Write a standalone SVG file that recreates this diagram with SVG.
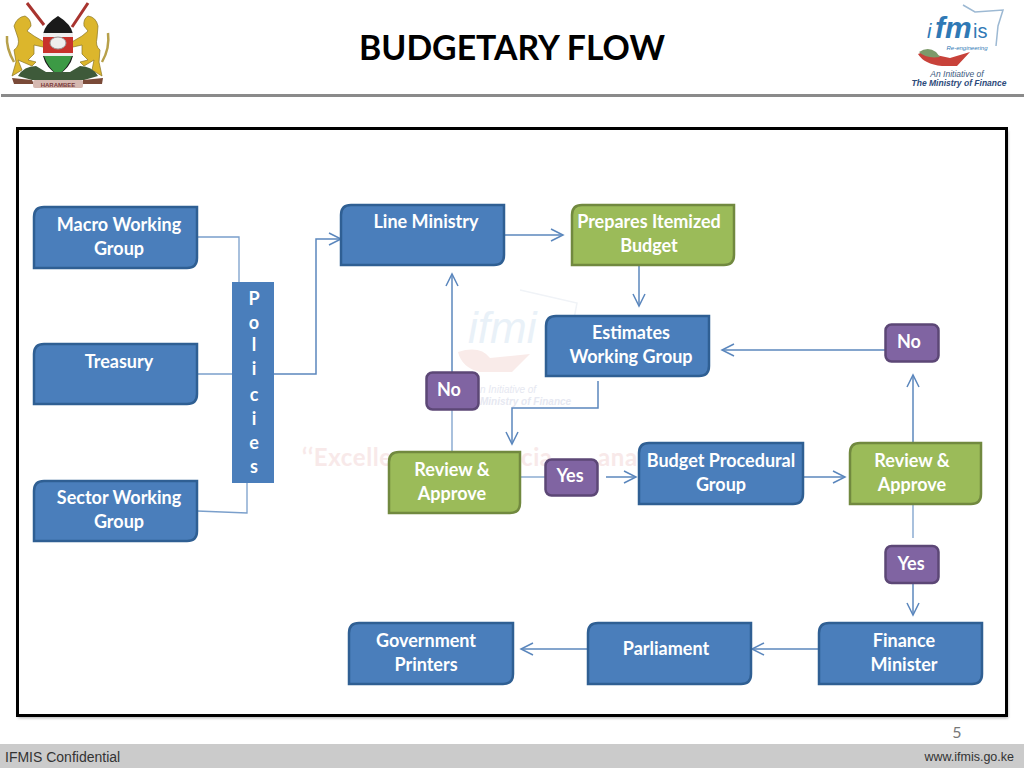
<svg xmlns="http://www.w3.org/2000/svg" width="1024" height="768" viewBox="0 0 1024 768">
<style>
text{font-family:Lato,"Open Sans","Liberation Sans",sans-serif}
.l{font-size:18px;font-weight:700;fill:#fff;text-anchor:middle}
.blue{fill:#4a7ebb;stroke:#2f5f93;stroke-width:2.5}
.green{fill:#9bbb59;stroke:#71893f;stroke-width:2.5}
.purple{fill:#8064a2;stroke:#5c4776;stroke-width:2.5}
.c{fill:none;stroke:#7a9fcb;stroke-width:1.3}
.ca{fill:none;stroke:#5b87bd;stroke-width:1.5;marker-end:url(#a)}
.wm{fill:#f8e9e9;font-size:24px;font-weight:700;letter-spacing:.6px}
.ws{font-size:10px;font-style:italic;fill:#e6e8f1;font-family:"Liberation Sans",sans-serif}
.lg{font-family:"Liberation Sans",sans-serif;font-style:italic}
</style>
<defs>
<marker id="a" markerUnits="userSpaceOnUse" markerWidth="16" markerHeight="16" refX="13" refY="7" orient="auto"><path d="M1 1L13 7L1 13" fill="none" stroke="#5b87bd" stroke-width="1.5"/></marker>
<filter id="s" x="-5%" y="-5%" width="110%" height="110%"><feGaussianBlur stdDeviation="1.5"/></filter>
</defs>
<rect width="1024" height="768" fill="#fff"/>

<g id="header">
<rect x="1" y="94" width="1023" height="3" fill="#8a8a8a"/>
<text x="512" y="60" text-anchor="middle" style="font-size:33.800px;font-weight:700" fill="#000">BUDGETARY FLOW</text>
</g>

<g id="coat-of-arms">
<path d="M27 3L44 25M88 3L72 27" stroke="#a8342f" stroke-width="3" fill="none"/>
<path d="M14 62Q6 48 7 36M102 62Q110 48 108 33" stroke="#b7a04a" stroke-width="2.500" fill="none"/>
<path d="M14 26Q17 17 25 16Q31 19 31 26L27 31L34 36L46 43L43 47L34 45L34 54L28 60L36 62L32 66L18 60L22 70L12 76L16 62L14 50Q20 46 18 38Z" fill="#dcb62c" stroke="#8a7524" stroke-width=".7"/>
<path d="M98 26Q96 17 88 16Q83 19 84 26L88 31L82 36L70 43L73 47L82 45L82 54L88 60L80 62L84 66L94 60L92 70L102 76L99 62L100 50Q95 46 97 38Z" fill="#dcb62c" stroke="#8a7524" stroke-width=".7"/>
<path d="M58 16Q45 24 43 34L43 56Q46 68 58 75Q70 68 73 56L73 34Q71 24 58 16Z" fill="#1a1a1a"/>
<path d="M43 33H73V37H43Z" fill="#eee"/>
<path d="M43 37H73V53H43Z" fill="#c8322c"/>
<path d="M43 53H73V56H43Z" fill="#eee"/>
<path d="M44 56H72Q68 68 58 75Q48 68 44 56Z" fill="#3c9a45"/>
<ellipse cx="58" cy="43" rx="8" ry="6" fill="#eee" stroke="#999"/>
<path d="M18 76Q24 66 36 66L46 72L70 72L80 66Q92 66 98 76L84 80H32Z" fill="#3e5a3a"/>
<path d="M12 78L32 80L34 84L14 84ZM103 78L83 80L82 84L102 84Z" fill="#7a4a38"/>
<rect x="33" y="80" width="50" height="8" rx="2" fill="#d5b8b0"/>
<text x="58" y="86.500" text-anchor="middle" style="font-size:6px;font-weight:700;font-family:'Liberation Sans',sans-serif" fill="#7a3a3a">HARAMBEE</text>
</g>

<g id="ifmis-logo">
<path d="M963 5L975 12L1003 10L998 26L996 46" fill="none" stroke="#9db9d3" stroke-width="1.500"/>
<text x="927" y="38" class="lg" style="font-size:20px" fill="#2f79b5">i</text>
<text x="935" y="38" class="lg" style="font-size:30px;font-weight:700" fill="#2f79b5">fm</text>
<text x="973" y="38" style="font-size:20px;font-family:'Liberation Sans',sans-serif" fill="#2f79b5">is</text>
<text x="967" y="50" text-anchor="middle" class="lg" style="font-size:6px" fill="#2f79b5">Re-engineering</text>
<path d="M918 54Q930 48 936 55L950 58L970 52L957 66H942Q924 64 918 54Z" fill="#c8423a"/>
<path d="M919 52Q928 46 936 52L940 57Q926 59 919 52Z" fill="#7c9a6a"/>
<text x="957" y="77" text-anchor="middle" class="lg" style="font-size:8.500px" fill="#3d5a80">An Initiative of</text>
<text x="959" y="86" text-anchor="middle" class="lg" style="font-size:8.500px;font-weight:700" fill="#2d4a7a">The Ministry of Finance</text>
</g>

<g id="frame">
<rect x="18" y="131" width="990" height="587" fill="#777" opacity=".6" filter="url(#s)"/>
<rect x="17.500" y="128.500" width="989" height="587" fill="#fff" stroke="#000" stroke-width="3"/>
</g>

<g id="watermark">
<path d="M520 290L577 303L570 340" fill="none" stroke="#f0f3f7" stroke-width="1.500"/>
<text x="468" y="343" class="lg" style="font-size:44px;fill:#e9f1f8">ifmi</text>
<path d="M458 352Q480 345 490 358L530 354L512 372H480Q462 368 458 352Z" fill="#f9ebe9"/>
<text x="480" y="393" class="ws">n Initiative of</text>
<text x="480" y="405" class="ws" style="font-weight:700">Ministry of Finance</text>
<text x="302" y="466" class="wm">‘‘Excelle</text>
<text x="521" y="466" class="wm">cia</text>
<text x="598" y="466" class="wm">ana</text>
</g>

<g id="connectors">
<path class="c" d="M197 237H239V283"/>
<path class="c" d="M197 374H232"/>
<path class="c" d="M197 511L247 513V483"/>
<path class="ca" d="M274 374H316V239H341"/>
<path class="ca" d="M504 235H563"/>
<path class="ca" d="M639 265V306"/>
<path class="ca" d="M598 381V408H512V444"/>
<path class="c" d="M452 452V410"/>
<path class="ca" d="M452 372V274"/>
<path class="c" d="M520 477H545"/>
<path class="ca" d="M606 477H636"/>
<path class="ca" d="M804 477H845"/>
<path class="ca" d="M885 350H722"/>
<path class="ca" d="M913 443V375"/>
<path class="c" d="M913 505V538"/>
<path class="ca" d="M913 584V615"/>
<path class="ca" d="M819 649H752"/>
<path class="ca" d="M588 649H521"/>
</g>

<g id="macro-working-group"><path class="blue" d="M44 207H197V258Q197 268 187 268H34V217Q34 207 44 207Z"/><text class="l" x="119" y="231">Macro Working</text><text class="l" x="119" y="255">Group</text></g>
<g id="treasury"><path class="blue" d="M44 344H197V394Q197 404 187 404H34V354Q34 344 44 344Z"/><text class="l" x="119" y="368">Treasury</text></g>
<g id="sector-working-group"><path class="blue" d="M44 481H197V531Q197 541 187 541H34V491Q34 481 44 481Z"/><text class="l" x="119" y="504">Sector Working</text><text class="l" x="119" y="528">Group</text></g>
<g id="policies"><rect x="232" y="282" width="42" height="201" fill="#4a7ebb"/>
<text class="l" x="254" y="305">P</text><text class="l" x="254" y="329">o</text><text class="l" x="254" y="351">l</text><text class="l" x="254" y="375">i</text><text class="l" x="254" y="401">c</text><text class="l" x="254" y="425">i</text><text class="l" x="254" y="449">e</text><text class="l" x="254" y="473">s</text></g>
<g id="line-ministry"><path class="blue" d="M351 205H504V255Q504 265 494 265H341V215Q341 205 351 205Z"/><text class="l" x="426" y="228">Line Ministry</text></g>
<g id="prepares-itemized-budget"><path class="green" d="M582 205H734V255Q734 265 724 265H572V215Q572 205 582 205Z"/><text class="l" x="649" y="228">Prepares Itemized</text><text class="l" x="649" y="252">Budget</text></g>
<g id="estimates-working-group"><path class="blue" d="M556 316H709V366Q709 376 699 376H546V326Q546 316 556 316Z"/><text class="l" x="631" y="339">Estimates</text><text class="l" x="631" y="363">Working Group</text></g>
<g id="no-left"><rect class="purple" x="426.500" y="372.500" width="52" height="37" rx="6"/><text class="l" x="449" y="396">No</text></g>
<g id="review-approve-left"><path class="green" d="M399 452H520V503Q520 513 510 513H389V462Q389 452 399 452Z"/><text class="l" x="452" y="476">Review &amp;</text><text class="l" x="452" y="500">Approve</text></g>
<g id="yes-left"><rect class="purple" x="545.500" y="459.500" width="52" height="36" rx="6"/><text class="l" x="570" y="482">Yes</text></g>
<g id="budget-procedural-group"><path class="blue" d="M649 443H803V494Q803 504 793 504H639V453Q639 443 649 443Z"/><text class="l" x="721" y="467">Budget Procedural</text><text class="l" x="721" y="491">Group</text></g>
<g id="review-approve-right"><path class="green" d="M860 443H981V494Q981 504 971 504H850V453Q850 443 860 443Z"/><text class="l" x="912" y="467">Review &amp;</text><text class="l" x="912" y="491">Approve</text></g>
<g id="no-right"><rect class="purple" x="885.500" y="324.500" width="53" height="37" rx="6"/><text class="l" x="909" y="348">No</text></g>
<g id="yes-right"><rect class="purple" x="885.500" y="546" width="53" height="37" rx="6"/><text class="l" x="911" y="570">Yes</text></g>
<g id="government-printers"><path class="blue" d="M359 623H513V674Q513 684 503 684H349V633Q349 623 359 623Z"/><text class="l" x="426" y="647">Government</text><text class="l" x="426" y="671">Printers</text></g>
<g id="parliament"><path class="blue" d="M598 623H751V674Q751 684 741 684H588V633Q588 623 598 623Z"/><text class="l" x="666" y="655">Parliament</text></g>
<g id="finance-minister"><path class="blue" d="M829 623H982V674Q982 684 972 684H819V633Q819 623 829 623Z"/><text class="l" x="904" y="647">Finance</text><text class="l" x="904" y="671">Minister</text></g>

<g id="footer">
<text x="957" y="738" text-anchor="middle" style="font-size:16px" fill="#777">5</text>
<rect x="0" y="744" width="1024" height="24" fill="#cbcbcb"/>
<text x="5" y="762" style="font-size:14px;font-family:'Liberation Sans',sans-serif" fill="#333">IFMIS Confidential</text>
<text x="1014" y="761" text-anchor="end" style="font-size:12.500px;font-family:'Liberation Sans',sans-serif" fill="#333">www.ifmis.go.ke</text>
</g>
</svg>
